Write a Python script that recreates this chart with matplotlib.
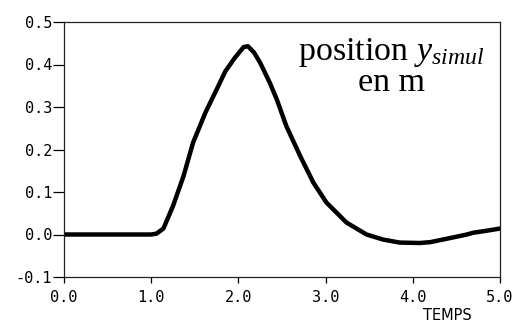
import matplotlib
matplotlib.use("Agg")
import matplotlib.pyplot as plt

plt.rcParams['mathtext.fontset'] = 'custom'
plt.rcParams['mathtext.rm'] = 'Liberation Serif'
plt.rcParams['mathtext.it'] = 'Liberation Serif:italic'

# data
temps = [0.0, 0.5, 1.0, 1.06, 1.14, 1.25, 1.37, 1.48, 1.62, 1.75, 1.85, 1.96,
         2.06, 2.11, 2.18, 2.25, 2.36, 2.44, 2.55, 2.71, 2.86, 3.01, 3.24, 3.47,
         3.66, 3.85, 4.08, 4.2, 4.39, 4.62, 4.69, 4.85, 5.0]
position = [0.0, 0.0, 0.0, 0.002, 0.014, 0.067, 0.137, 0.216, 0.286, 0.341, 0.384, 0.416,
            0.441, 0.443, 0.428, 0.404, 0.357, 0.318, 0.255, 0.184, 0.122, 0.075, 0.028, 0.0,
            -0.012, -0.019, -0.020, -0.018, -0.010, 0.0, 0.004, 0.009, 0.014]
xticks = [0.0, 1.0, 2.0, 3.0, 4.0, 5.0]
yticks = [-0.1, 0.0, 0.1, 0.2, 0.3, 0.4, 0.5]

W, H = 522, 323
fig = plt.figure(figsize=(W/100, H/100), dpi=100)
ax = fig.add_axes([64/W, 1-277/H, 436/W, 255/H])
ax.plot(temps, position, color='black', lw=3.2, solid_capstyle='round', solid_joinstyle='round')
ax.set_xlim(0, 5)
ax.set_ylim(-0.1, 0.5)
ax.set_xticks(xticks)
ax.set_xticklabels([f"{v:.1f}" for v in xticks], family='DejaVu Sans Mono', fontsize=11)
ax.set_yticks(yticks)
ax.set_yticklabels([f"{v:.1f}" for v in yticks], family='DejaVu Sans Mono', fontsize=11)
ax.tick_params(axis='y', direction='out', length=8, width=0.9, pad=0.5)
ax.tick_params(axis='x', direction='out', length=4, width=0.9, pad=5)
for s in ax.spines.values():
    s.set_linewidth(0.9)
    s.set_color('#222222')

fig.text(447/W, 1-320/H, 'TEMPS', ha='center', va='baseline', fontsize=10.5, family='DejaVu Sans')
fig.text(391/W, 1-91/H, 'position $y_{simul}$\nen m', ha='center', va='baseline',
         multialignment='center', linespacing=0.95,
         fontsize=24.5, family='Liberation Serif')

fig.savefig('out.png', dpi=100)
